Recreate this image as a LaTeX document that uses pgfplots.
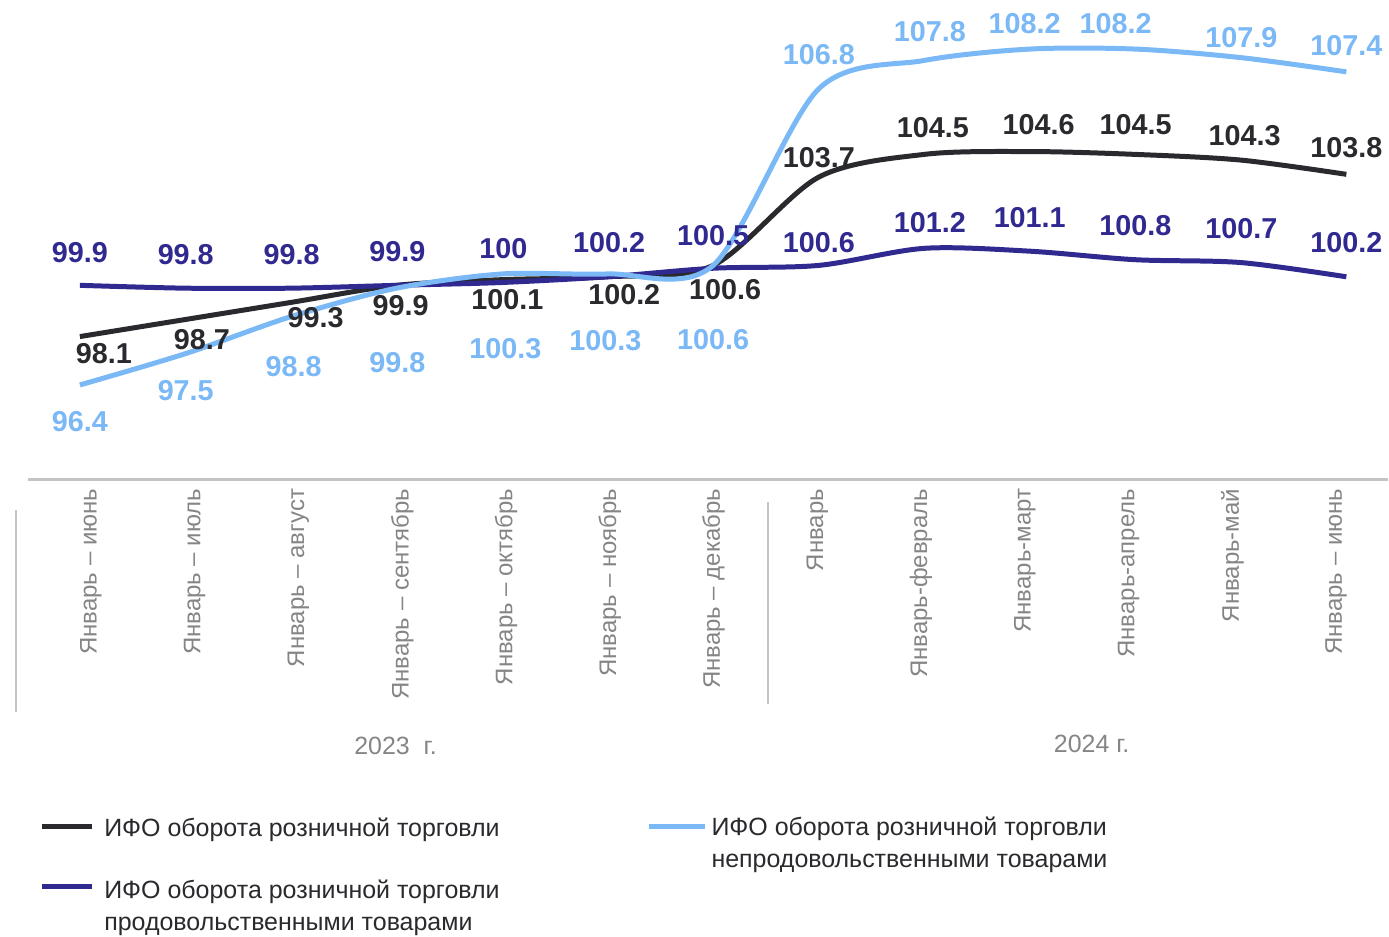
\documentclass[border=0pt]{standalone}
\usepackage{fontspec}
\setmainfont{Liberation Sans}
\usepackage{pgfplots}
\usepackage{pgfplotstable}
\pgfplotsset{compat=1.18}
\definecolor{cblack}{HTML}{2A2A2E}
\definecolor{cdark}{HTML}{30298F}
\definecolor{clight}{HTML}{7AB8F6}
\definecolor{cgray}{HTML}{858585}
\definecolor{caxis}{HTML}{C4C4C4}

\pgfplotstableread{
x total food nonfood
0 98.1 99.9 96.4
1 98.7 99.8 97.5
2 99.3 99.8 98.8
3 99.9 99.9 99.8
4 100.1 100.0 100.3
5 100.2 100.2 100.3
6 100.6 100.5 100.6
7 103.7 100.6 106.8
8 104.5 101.2 107.8
9 104.6 101.1 108.2
10 104.5 100.8 108.2
11 104.3 100.7 107.9
12 103.8 100.2 107.4
}\datatable

\pgfplotstableread{
x y lab
0.227 97.50 98.1
1.155 97.99 98.7
2.233 98.77 99.3
3.038 99.19 99.9
4.050 99.40 100.1
5.158 99.57 100.2
6.113 99.75 100.6
7.003 104.38 103.7
8.082 105.43 104.5
9.085 105.54 104.6
10.004 105.54 104.5
11.035 105.15 104.3
12.0 104.73 103.8
}\labtotal

\pgfplotstableread{
x y lab
0 101.05 99.9
1.003 100.98 99.8
2.006 100.98 99.8
3.009 101.08 99.9
4.012 101.19 100
5.015 101.40 100.2
6.0 101.64 100.5
7.003 101.40 100.6
8.053 102.10 101.2
9.0 102.28 101.1
10.0 102.0 100.8
11.006 101.89 100.7
12.0 101.40 100.2
}\labfood

\pgfplotstableread{
x y lab
0 95.12 96.4
1.003 96.21 97.5
2.025 97.05 98.8
3.009 97.19 99.8
4.031 97.68 100.3
4.978 97.96 100.3
6.0 97.99 100.6
7.003 108.0 106.8
8.053 108.80 107.8
8.952 109.08 108.2
9.813 109.08 108.2
11.006 108.59 107.9
12.0 108.31 107.4
}\labnonfood

\begin{document}
\begin{tikzpicture}
\begin{axis}[
  x=52.835pt, y=14.25pt,
  xmin=-0.492, xmax=12.39, ymin=93.08, ymax=109.92,
  clip=false,
  axis x line=bottom, axis y line=none,
  x axis line style={caxis, line width=1.5pt, -},
  ytick=\empty,
  xtick={0.104,1.087,2.071,3.054,4.037,5.021,6.004,6.987,7.970,8.954,9.937,10.920,11.904},
  xticklabels={Январь – июнь, Январь – июль, Январь – август, Январь – сентябрь, Январь – октябрь, Январь – ноябрь, Январь – декабрь, Январь, Январь-февраль, Январь-март, Январь-апрель, Январь-май, Январь – июнь},
  major tick length=0pt,
  xticklabel style={rotate=90, anchor=east, inner ysep=0pt, inner xsep=4.5pt, font=\fontsize{12}{14}\selectfont, text=cgray},
]
\addplot[cblack, line width=2.5pt, smooth, tension=0.5] table[x=x, y=total] {\datatable};
\addplot[cdark, line width=2.5pt, smooth, tension=0.5] table[x=x, y=food] {\datatable};
\addplot[clight, line width=2.5pt, smooth, tension=0.5] table[x=x, y=nonfood] {\datatable};

\addplot[draw=none, mark=none, nodes near coords, point meta=explicit symbolic,
  nodes near coords style={anchor=center, inner sep=0pt, text=cblack, font=\fontsize{14.4}{16}\selectfont\bfseries}]
  table[x=x, y=y, meta=lab] {\labtotal};
\addplot[draw=none, mark=none, nodes near coords, point meta=explicit symbolic,
  nodes near coords style={anchor=center, inner sep=0pt, text=cdark, font=\fontsize{14.4}{16}\selectfont\bfseries}]
  table[x=x, y=y, meta=lab] {\labfood};
\addplot[draw=none, mark=none, nodes near coords, point meta=explicit symbolic,
  nodes near coords style={anchor=center, inner sep=0pt, text=clight, font=\fontsize{14.4}{16}\selectfont\bfseries}]
  table[x=x, y=y, meta=lab] {\labnonfood};

\coordinate (O) at (axis cs:-0.757,109.924);
\end{axis}

\begin{scope}[shift={(O)}, x=0.5pt, y=-0.5pt]
  \path (0,0) rectangle (1389,938);
  \draw[caxis, line width=1pt] (16,511) -- (16,713);
  \draw[caxis, line width=1pt] (769,503) -- (769,705);
  \node[text=cgray, font=\fontsize{12.5}{14}\selectfont] at (396,747) {2023\ \ г.};
  \node[text=cgray, font=\fontsize{12.5}{14}\selectfont] at (1093,745) {2024 г.};
  % legend
  \draw[cblack, line width=2.5pt] (42,828) -- (92,828);
  \node[anchor=west, inner sep=0pt, font=\fontsize{12.5}{16}\selectfont, text=cblack] at (104,831) {ИФО оборота розничной торговли};
  \draw[cdark, line width=2.5pt] (42,888) -- (92,888);
  \node[anchor=west, inner sep=0pt, align=left, font=\fontsize{12.5}{16}\selectfont, text=cblack] at (104,909) {ИФО оборота розничной торговли\\продовольственными товарами};
  \draw[clight, line width=2.5pt] (650,828) -- (706,828);
  \node[anchor=west, inner sep=0pt, align=left, font=\fontsize{12.5}{16}\selectfont, text=cblack] at (712,846) {ИФО оборота розничной торговли\\непродовольственными товарами};
\end{scope}
\end{tikzpicture}
\end{document}
